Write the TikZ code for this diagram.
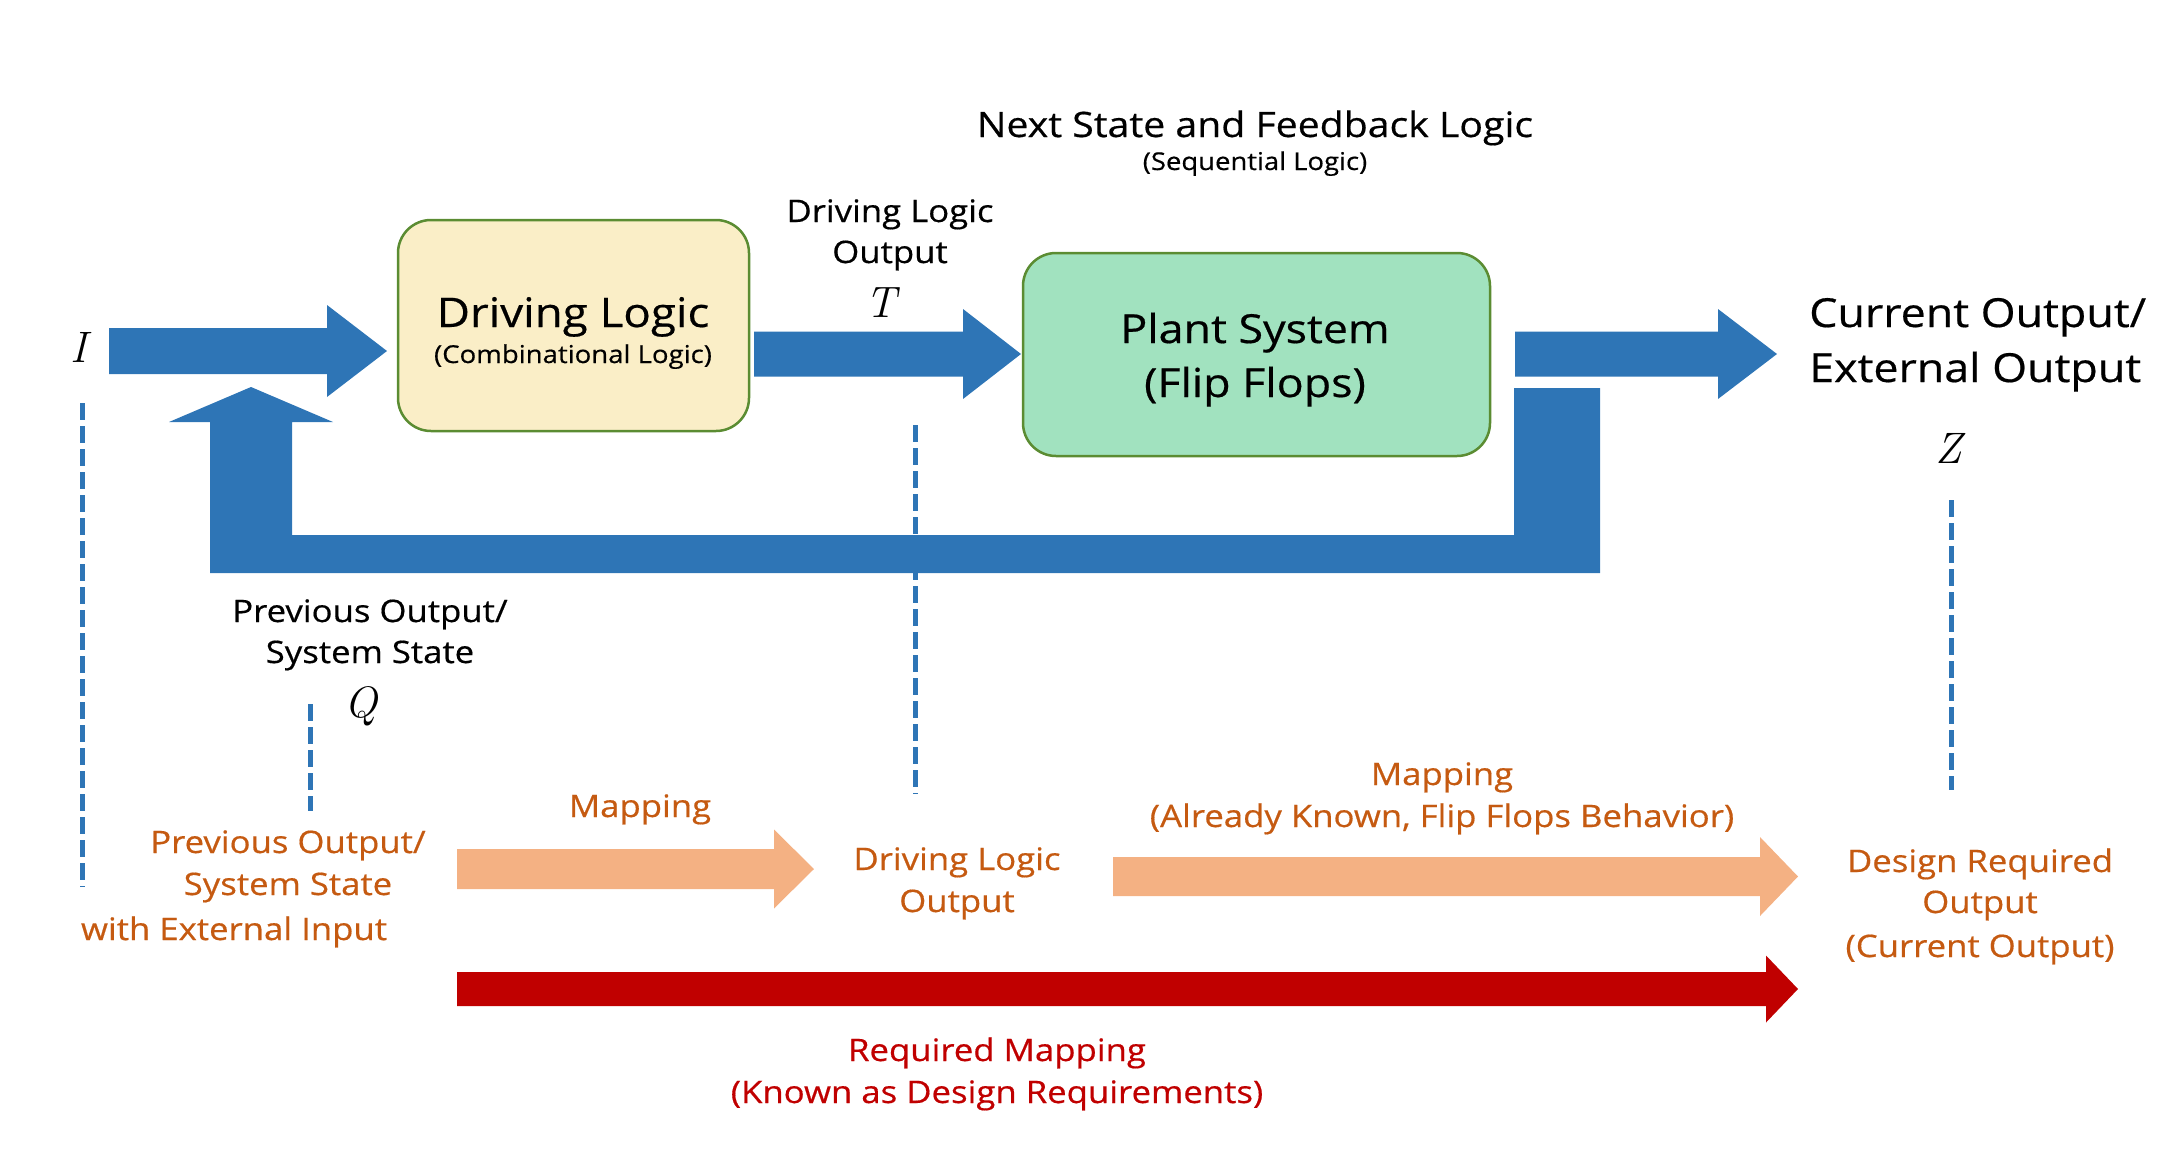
\documentclass[tikz,border=0pt]{standalone}
\usepackage{fontspec}
\setmainfont{Open Sans}[FakeStretch=1.12, FakeBold=0.5]
\newfontfamily\letterfont{Latin Modern Roman}
\usetikzlibrary{calc}

\definecolor{flowblue}{HTML}{2E75B6}
\definecolor{drvfill}{HTML}{FAEEC7}
\definecolor{plantfill}{HTML}{A1E2BF}
\definecolor{boxedge}{HTML}{5B8C32}
\definecolor{mapfill}{HTML}{F4B183}
\definecolor{maptext}{HTML}{C55A11}
\definecolor{reqred}{HTML}{C00000}

% block arrow: style, tail coordinate, tip coordinate,
% half body width, half head width, head length (all in pt)
\newcommand\fatarrow[6]{%
  \fill[#1] let \p1=(#2), \p2=(#3) in
    (\x1,\y1+#4pt) -- (\x2-#6pt,\y1+#4pt) -- (\x2-#6pt,\y1+#5pt) -- (\x2,\y1)
    -- (\x2-#6pt,\y1-#5pt) -- (\x2-#6pt,\y1-#4pt) -- (\x1,\y1-#4pt) -- cycle;}

\begin{document}
\begin{tikzpicture}[x=1pt,y=-1pt,
  logicbox/.style={draw=boxedge, line width=2.5pt, rounded corners=33pt, inner sep=0pt},
  txt/.style={inner sep=0pt, anchor=base, font=\fontsize{31}{42}\selectfont},
  bigtxt/.style={txt, font=\fontsize{40}{54}\selectfont},
  smalltxt/.style={txt, font=\fontsize{24.6}{30}\selectfont},
  sym/.style={inner sep=0pt, anchor=base, font=\letterfont\itshape\fontsize{44}{50}\selectfont},
  maplbl/.style={txt, text=maptext},
  reqlbl/.style={txt, text=reqred},
  guide/.style={draw=flowblue, line width=5pt, dash pattern=on 17pt off 6pt}]

\useasboundingbox (0,0) rectangle (2180,1151);

% ---------- blocks ----------
\node[logicbox, fill=drvfill, minimum width=351pt, minimum height=211pt] (drv) at (573.5,325.5) {};
\node[logicbox, fill=plantfill, minimum width=467pt, minimum height=203pt] (plant) at (1256.5,354.5) {};

\node[bigtxt, font=\fontsize{40.8}{54}\selectfont] (drvname) at (573,327) {Driving Logic};
\node[smalltxt] (drvkind) at (573,363) {(Combinational Logic)};
\node[bigtxt] (plantname) at (1255,343) {Plant System};
\node[bigtxt] (plantkind) at (1255,397) {(Flip Flops)};

\node[txt, font=\fontsize{35}{42}\selectfont] (seqtitle) at (1255,137) {Next State and Feedback Logic};
\node[txt, font=\fontsize{24.5}{28}\selectfont] (seqsub) at (1255,170) {(Sequential Logic)};

% ---------- signal arrows ----------
\coordinate (inTail) at (109,351);
\coordinate (inTip) at (387,351);
\coordinate (tTail) at (754,354);
\coordinate (tTip) at (1021,354);
\coordinate (zTail) at (1515,354);
\coordinate (zTip) at (1777,354);

\fatarrow{flowblue}{inTail}{inTip}{23}{46}{60}
\fatarrow{flowblue}{tTail}{tTip}{22.5}{45}{58}
\fatarrow{flowblue}{zTail}{zTip}{22.5}{45}{59}

% feedback path from the plant output back to the driving logic
\fill[flowblue] (1514,388) -- (1600,388) -- (1600,573) -- (210,573) -- (210,422)
  -- (169,422) -- (251,387) -- (333,422) -- (292,422) -- (292,535)
  -- (1514,535) -- cycle;

% ---------- signal labels ----------
\node[sym] (symI) at (79,362) {I};
\node[txt] (tlab1) at (890,222) {Driving Logic};
\node[txt] (tlab2) at (890,263) {Output};
\node[sym] (symT) at (881,317) {T};
\node[bigtxt, anchor=base west] (zlab1) at (1809,327) {Current Output/};
\node[bigtxt, anchor=base west] (zlab2) at (1809,382) {External Output};
\node[sym] (symZ) at (1949,463) {Z};
\node[txt] (qlab1) at (370,622) {Previous Output/};
\node[txt] (qlab2) at (370,663) {System State};
\node[sym] (symQ) at (361,717) {Q};

% ---------- guide lines ----------
\draw[guide] (82,403) -- (82,887);
\draw[guide] (310,704) -- (310,811);
\draw[guide] (915,425) -- (915,794);
\draw[guide] (1951,500) -- (1951,790);

% ---------- mapping row ----------
\node[maplbl] (src1) at (288,853) {Previous Output/};
\node[maplbl] (src2) at (288,895) {System State};
\node[maplbl] (src3) at (234,940) {with External Input};

\coordinate (m1Tail) at (457,869);
\coordinate (m1Tip) at (814,869);
\fatarrow{mapfill}{m1Tail}{m1Tip}{20}{39.5}{40}
\node[maplbl] (m1lab) at (640,817) {Mapping};

\node[maplbl] (mid1) at (957,870) {Driving Logic};
\node[maplbl] (mid2) at (957,912) {Output};

\coordinate (m2Tail) at (1113,876.5);
\coordinate (m2Tip) at (1798,876.5);
\fatarrow{mapfill}{m2Tail}{m2Tip}{19.5}{39.5}{38}
\node[maplbl] (m2lab1) at (1442,785) {Mapping};
\node[maplbl] (m2lab2) at (1442,827) {(Already Known, Flip Flops Behavior)};

\node[maplbl] (dst1) at (1980,872) {Design Required};
\node[maplbl] (dst2) at (1980,913) {Output};
\node[maplbl] (dst3) at (1980,957) {(Current Output)};

\coordinate (reqTail) at (457,989);
\coordinate (reqTip) at (1798,989);
\fatarrow{reqred}{reqTail}{reqTip}{17}{33.5}{32}
\node[reqlbl] (req1) at (997,1061) {Required Mapping};
\node[reqlbl] (req2) at (997,1103) {(Known as Design Requirements)};

\end{tikzpicture}
\end{document}
